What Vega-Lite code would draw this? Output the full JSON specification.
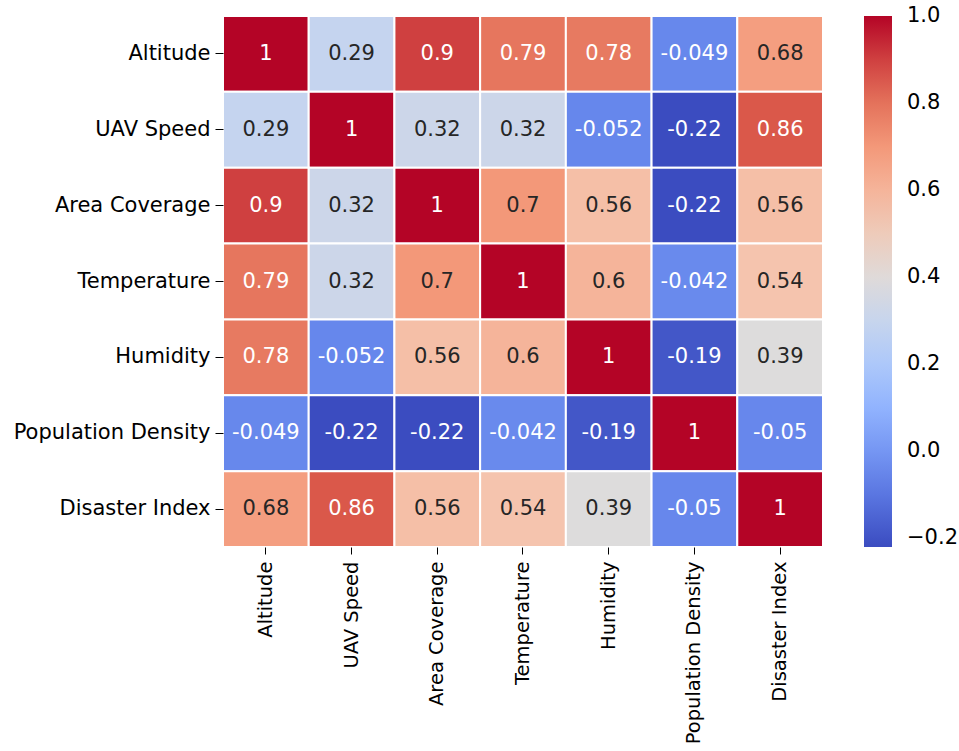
{
  "$schema": "https://vega.github.io/schema/vega-lite/v6.json",
  "width": 600,
  "height": 531,
  "autosize": {"type": "none"},
  "padding": {"left": 223, "top": 16, "right": 136, "bottom": 204},
  "background": "white",
  "config": {
    "font": "DejaVu Sans",
    "view": {"stroke": null},
    "axis": {"labelFont": "DejaVu Sans", "labelFontSize": 21, "labelColor": "black", "labelLimit": 0, "tickColor": "black", "domain": false, "grid": false, "title": null}
  },
  "data": {
    "values": [
      {"row": "Altitude", "col": "Altitude", "value": 1},
      {"row": "Altitude", "col": "UAV Speed", "value": 0.29},
      {"row": "Altitude", "col": "Area Coverage", "value": 0.9},
      {"row": "Altitude", "col": "Temperature", "value": 0.79},
      {"row": "Altitude", "col": "Humidity", "value": 0.78},
      {"row": "Altitude", "col": "Population Density", "value": -0.049},
      {"row": "Altitude", "col": "Disaster Index", "value": 0.68},
      {"row": "UAV Speed", "col": "Altitude", "value": 0.29},
      {"row": "UAV Speed", "col": "UAV Speed", "value": 1},
      {"row": "UAV Speed", "col": "Area Coverage", "value": 0.32},
      {"row": "UAV Speed", "col": "Temperature", "value": 0.32},
      {"row": "UAV Speed", "col": "Humidity", "value": -0.052},
      {"row": "UAV Speed", "col": "Population Density", "value": -0.22},
      {"row": "UAV Speed", "col": "Disaster Index", "value": 0.86},
      {"row": "Area Coverage", "col": "Altitude", "value": 0.9},
      {"row": "Area Coverage", "col": "UAV Speed", "value": 0.32},
      {"row": "Area Coverage", "col": "Area Coverage", "value": 1},
      {"row": "Area Coverage", "col": "Temperature", "value": 0.7},
      {"row": "Area Coverage", "col": "Humidity", "value": 0.56},
      {"row": "Area Coverage", "col": "Population Density", "value": -0.22},
      {"row": "Area Coverage", "col": "Disaster Index", "value": 0.56},
      {"row": "Temperature", "col": "Altitude", "value": 0.79},
      {"row": "Temperature", "col": "UAV Speed", "value": 0.32},
      {"row": "Temperature", "col": "Area Coverage", "value": 0.7},
      {"row": "Temperature", "col": "Temperature", "value": 1},
      {"row": "Temperature", "col": "Humidity", "value": 0.6},
      {"row": "Temperature", "col": "Population Density", "value": -0.042},
      {"row": "Temperature", "col": "Disaster Index", "value": 0.54},
      {"row": "Humidity", "col": "Altitude", "value": 0.78},
      {"row": "Humidity", "col": "UAV Speed", "value": -0.052},
      {"row": "Humidity", "col": "Area Coverage", "value": 0.56},
      {"row": "Humidity", "col": "Temperature", "value": 0.6},
      {"row": "Humidity", "col": "Humidity", "value": 1},
      {"row": "Humidity", "col": "Population Density", "value": -0.19},
      {"row": "Humidity", "col": "Disaster Index", "value": 0.39},
      {"row": "Population Density", "col": "Altitude", "value": -0.049},
      {"row": "Population Density", "col": "UAV Speed", "value": -0.22},
      {"row": "Population Density", "col": "Area Coverage", "value": -0.22},
      {"row": "Population Density", "col": "Temperature", "value": -0.042},
      {"row": "Population Density", "col": "Humidity", "value": -0.19},
      {"row": "Population Density", "col": "Population Density", "value": 1},
      {"row": "Population Density", "col": "Disaster Index", "value": -0.05},
      {"row": "Disaster Index", "col": "Altitude", "value": 0.68},
      {"row": "Disaster Index", "col": "UAV Speed", "value": 0.86},
      {"row": "Disaster Index", "col": "Area Coverage", "value": 0.56},
      {"row": "Disaster Index", "col": "Temperature", "value": 0.54},
      {"row": "Disaster Index", "col": "Humidity", "value": 0.39},
      {"row": "Disaster Index", "col": "Population Density", "value": -0.05},
      {"row": "Disaster Index", "col": "Disaster Index", "value": 1}
    ]
  },
  "encoding": {
    "x": {
      "field": "col", "type": "nominal",
      "sort": ["Altitude", "UAV Speed", "Area Coverage", "Temperature", "Humidity", "Population Density", "Disaster Index"],
      "scale": {"paddingInner": 0, "paddingOuter": 0},
      "axis": {"orient": "bottom", "labelAngle": 270, "labelAlign": "right", "labelBaseline": "middle", "labelFontSize": 19.5, "tickSize": 7, "labelPadding": 7}
    },
    "y": {
      "field": "row", "type": "nominal",
      "sort": ["Altitude", "UAV Speed", "Area Coverage", "Temperature", "Humidity", "Population Density", "Disaster Index"],
      "scale": {"paddingInner": 0, "paddingOuter": 0},
      "axis": {"orient": "left", "tickSize": 8, "labelPadding": 5}
    }
  },
  "layer": [
    {
      "mark": {"type": "rect", "stroke": "white", "strokeWidth": 2},
      "encoding": {
        "fill": {
          "field": "value", "type": "quantitative",
          "scale": {
            "type": "linear",
            "domain": [-0.22, -0.0675, 0.085, 0.2375, 0.39, 0.5425, 0.695, 0.8475, 1.0],
            "range": ["#3b4cc0", "#6282ea", "#8db0fe", "#b8d0f9", "#dddcdc", "#f5c4ad", "#f49a7b", "#dd604d", "#b40426"],
            "interpolate": "rgb"
          },
          "legend": {
            "title": null,
            "direction": "vertical",
            "orient": "right",
            "offset": 41,
            "gradientLength": 531,
            "gradientThickness": 28,
            "gradientStrokeWidth": 0,
            "values": [-0.2, 0, 0.2, 0.4, 0.6, 0.8, 1.0],
            "format": ".1f",
            "labelFont": "DejaVu Sans",
            "labelFontSize": 21,
            "labelColor": "black",
            "labelOffset": 15,
            "labelBaseline": "middle",
            "labelOverlap": false,
            "encode": {"labels": {"update": {"baseline": {"value": "middle"}}}}
          }
        }
      }
    },
    {
      "mark": {"type": "text", "font": "DejaVu Sans", "fontSize": 21},
      "encoding": {
        "text": {"field": "value", "type": "nominal"},
        "color": {
          "condition": {"test": "datum['value'] >= 0.75 || datum['value'] < 0.1", "value": "#ffffff"},
          "value": "#262626"
        }
      }
    }
  ]
}
